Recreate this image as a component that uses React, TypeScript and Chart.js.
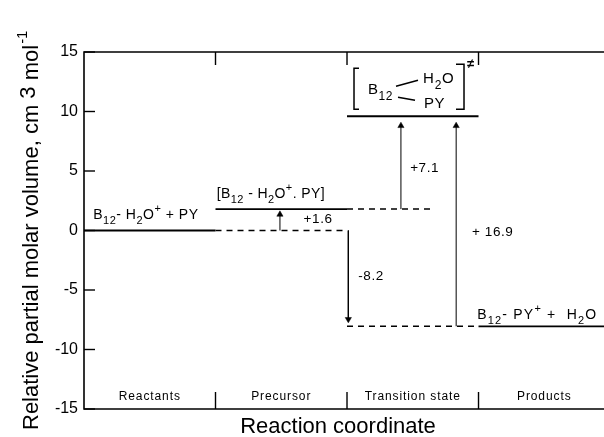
import React, { useEffect, useRef } from "react";
import { Chart, registerables } from "chart.js";

Chart.register(...registerables);

// ---- data ----
const categories = ["Reactants", "Precursor", "Transition state", "Products"];
const levelValues = [0, 1.8, 9.6, -8.05]; // drawn level of each state
const yTicks = [-15, -10, -5, 0, 5, 10, 15];
const changeLabels = ["+1.6", "+7.1", "-8.2", "+ 16.9"];
const arrowX = [1.49, 2.41, 2.01, 2.83];
const arrowFrom = [0, 1.8, 0, -8.05];
const arrowTo = [1.35, 8.8, -7.46, 8.8];
const dashedLevelIndex = [0, 1, 3];
const dashedFrom = [1, 2, 2];
const dashedTo = [2, 2.65, 3];

const FONT = '"Liberation Sans", Arial, Helvetica, sans-serif';

type Part = [string, "n" | "b" | "p"];

const reactantsLabel: Part[] = [["B", "n"], ["12", "b"], ["- H", "n"], ["2", "b"], ["O", "n"], ["+", "p"], [" + PY", "n"]];
const precursorLabel: Part[] = [["[B", "n"], ["12", "b"], [" - H", "n"], ["2", "b"], ["O", "n"], ["+", "p"], [". PY]", "n"]];
const productsLabel: Part[] = [["B", "n"], ["12", "b"], ["- PY", "n"], ["+", "p"], [" +  H", "n"], ["2", "b"], ["O", "n"]];

function drawRich(ctx: CanvasRenderingContext2D, x: number, y: number, parts: Part[], size: number, spacing = 0.6) {
  let cx = x;
  ctx.textAlign = "left";
  ctx.textBaseline = "alphabetic";
  for (const [t, k] of parts) {
    const s = k === "n" ? size : Math.round(size * 0.8);
    ctx.font = `${s}px ${FONT}`;
    (ctx as any).letterSpacing = `${spacing}px`;
    const dy = k === "b" ? size * 0.38 : k === "p" ? -size * 0.45 : 0;
    ctx.fillText(t, cx, y + dy);
    cx += ctx.measureText(t).width;
  }
  (ctx as any).letterSpacing = "0px";
}

const overlay = {
  id: "overlay",
  afterDraw(chart: any) {
    const ctx: CanvasRenderingContext2D = chart.ctx;
    const xs = chart.scales.x;
    const ys = chart.scales.y;
    const { left, top, bottom } = chart.chartArea;
    const px = (v: number) => xs.getPixelForValue(v);
    const py = (v: number) => ys.getPixelForValue(v);
    const W = chart.width;
    ctx.save();
    ctx.fillStyle = "#000";
    ctx.strokeStyle = "#000";

    // frame
    ctx.lineWidth = 1.6;
    ctx.beginPath();
    ctx.moveTo(W, top);
    ctx.lineTo(left, top);
    ctx.lineTo(left, bottom);
    ctx.lineTo(W, bottom);
    ctx.stroke();

    // y ticks (inward)
    ctx.lineWidth = 1.4;
    for (const v of yTicks) {
      const y = py(v);
      ctx.beginPath();
      ctx.moveTo(left, y);
      ctx.lineTo(left + 11, y);
      ctx.stroke();
    }
    // category dividers
    for (let i = 1; i < categories.length; i++) {
      const x = px(i);
      ctx.beginPath();
      ctx.moveTo(x, top);
      ctx.lineTo(x, top + 13);
      ctx.moveTo(x, bottom);
      ctx.lineTo(x, bottom - 17);
      ctx.stroke();
    }
    // category labels
    ctx.font = `12px ${FONT}`;
    (ctx as any).letterSpacing = "0.9px";
    ctx.textAlign = "center";
    ctx.textBaseline = "alphabetic";
    categories.forEach((c, i) => ctx.fillText(c, px(i + 0.5), bottom - 9));
    (ctx as any).letterSpacing = "0px";

    // species labels
    drawRich(ctx, px(0.07), py(1.0), reactantsLabel, 14, 0.5);
    drawRich(ctx, px(1.01), py(2.77), precursorLabel, 14, 0.4);
    drawRich(ctx, px(2.99), py(-7.4), productsLabel, 14, 1.2);

    // change labels
    ctx.font = `13.5px ${FONT}`;
    (ctx as any).letterSpacing = "0.6px";
    ctx.textAlign = "left";
    ctx.fillText(changeLabels[0], px(1.67), py(0.6));
    ctx.fillText(changeLabels[1], px(2.48), py(4.95));
    ctx.fillText(changeLabels[2], px(2.085), py(-4.2));
    ctx.fillText(changeLabels[3], px(2.95), py(-0.5));
    (ctx as any).letterSpacing = "0px";

    // transition state complex
    const ax = px(2);
    const ay = py(levelValues[2]);
    ctx.lineWidth = 1.5;
    ctx.beginPath();
    // left bracket
    ctx.moveTo(ax + 12, ay - 48);
    ctx.lineTo(ax + 7, ay - 48);
    ctx.lineTo(ax + 7, ay - 7);
    ctx.lineTo(ax + 12, ay - 7);
    // right bracket
    ctx.moveTo(ax + 109, ay - 52);
    ctx.lineTo(ax + 117, ay - 52);
    ctx.lineTo(ax + 117, ay - 7);
    ctx.lineTo(ax + 109, ay - 7);
    // bonds
    ctx.moveTo(ax + 49, ay - 30);
    ctx.lineTo(ax + 71, ay - 36);
    ctx.moveTo(ax + 51, ay - 19);
    ctx.lineTo(ax + 68, ay - 16);
    ctx.stroke();
    drawRich(ctx, ax + 21, ay - 22, [["B", "n"], ["12", "b"]], 15, 0.5);
    drawRich(ctx, ax + 76, ay - 33, [["H", "n"], ["2", "b"], ["O", "n"]], 15, 0.8);
    drawRich(ctx, ax + 77, ay - 8, [["PY", "n"]], 15, 0.4);
    ctx.font = `bold 13px ${FONT}`;
    ctx.textAlign = "left";
    ctx.fillText("\u2260", ax + 120, ay - 48);

    // axis titles
    ctx.font = `22px ${FONT}`;
    ctx.textAlign = "center";
    ctx.fillText("Reaction coordinate", 338, 433);

    ctx.translate(38, 430);
    ctx.rotate(-Math.PI / 2);
    ctx.textAlign = "left";
    let tx = 0;
    const seg1 = "Relative partial molar volume, cm ";
    ctx.font = `22px ${FONT}`;
    ctx.fillText(seg1, tx, 0);
    tx += ctx.measureText(seg1).width;
    ctx.fillText("3", tx, -3);
    tx += ctx.measureText("3").width;
    ctx.fillText(" mol", tx, 0);
    tx += ctx.measureText(" mol").width;
    ctx.font = `15px ${FONT}`;
    ctx.fillText("-1", tx + 1, -11);

    ctx.restore();
  },
};

export default function App() {
  const ref = useRef<HTMLCanvasElement>(null);

  useEffect(() => {
    if (!ref.current) return;
    const datasets: any[] = [];
    // solid levels
    levelValues.forEach((v, i) => {
      datasets.push({
        data: [{ x: i, y: v }, { x: i + 1, y: v }],
        borderColor: "#000",
        borderWidth: 1.8,
        pointRadius: 0,
        clip: false,
      });
    });
    // dashed extensions
    dashedLevelIndex.forEach((li, k) => {
      datasets.push({
        data: [{ x: dashedFrom[k], y: levelValues[li] }, { x: dashedTo[k], y: levelValues[li] }],
        borderColor: "#000",
        borderWidth: 1.5,
        borderDash: [6, 5],
        pointRadius: 0,
      });
    });
    // arrows
    arrowX.forEach((x, k) => {
      const up = arrowTo[k] > arrowFrom[k];
      datasets.push({
        data: [{ x, y: arrowFrom[k] }, { x, y: arrowTo[k] }],
        borderColor: "#000",
        backgroundColor: "#000",
        borderWidth: 1,
        pointRadius: [0, 3.6],
        pointBorderWidth: 0.5,
        pointStyle: "triangle",
        rotation: up ? 0 : 180,
      });
    });

    const chart = new Chart(ref.current, {
      type: "line",
      data: { datasets },
      options: {
        animation: false,
        responsive: false,
        devicePixelRatio: 1,
        layout: { padding: { top: 52, bottom: 28, left: 0, right: 0 } },
        plugins: { legend: { display: false }, tooltip: { enabled: false } },
        scales: {
          x: { type: "linear", min: 0, max: 3.92, display: false },
          y: {
            type: "linear",
            min: -15,
            max: 15,
            afterBuildTicks: (s: any) => {
              s.ticks = yTicks.map((v) => ({ value: v }));
            },
            afterFit: (s: any) => {
              s.width = 84;
            },
            grid: { display: false, drawTicks: false },
            border: { display: false },
            ticks: {
              color: "#000",
              padding: 6,
              font: { family: FONT, size: 16 },
            },
          },
        },
      },
      plugins: [overlay],
    });
    return () => chart.destroy();
  }, []);

  return (
    <div style={{ position: "absolute", left: 0, top: 0, width: 604, height: 437, background: "#fff" }}>
      <canvas ref={ref} width={604} height={437} />
    </div>
  );
}
